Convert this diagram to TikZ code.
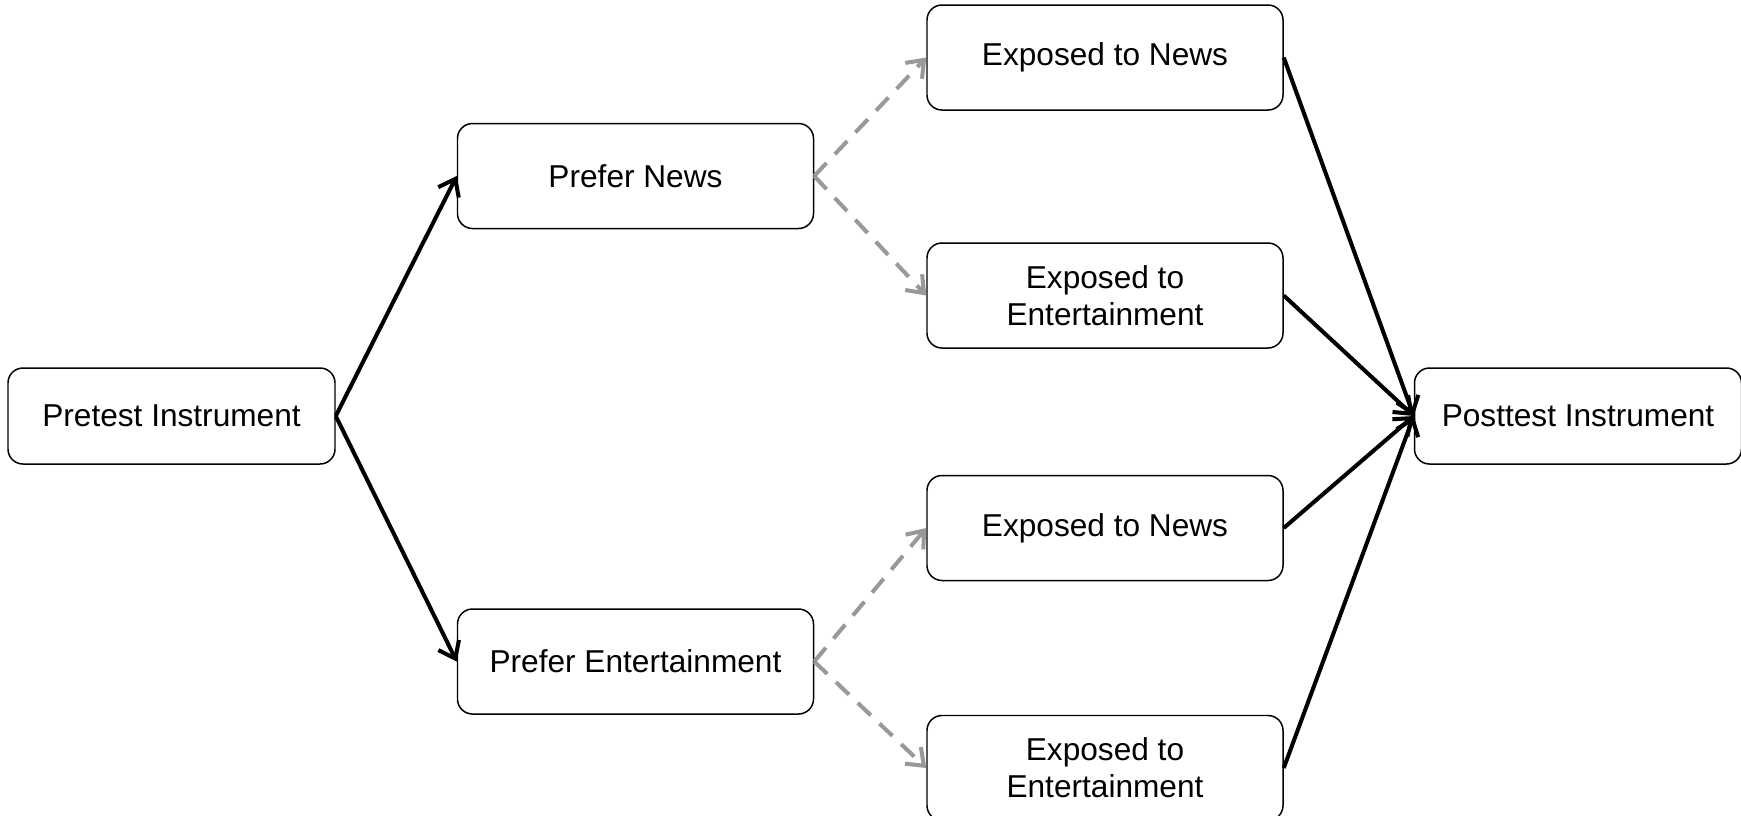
\documentclass[tikz,border=0pt]{standalone}
\usepackage{fontspec}
\setmainfont{Liberation Sans}
\usetikzlibrary{positioning,arrows.meta}

\begin{document}
\begin{tikzpicture}[
  font=\fontsize{18}{21}\selectfont,
  box/.style={draw,rounded corners=0.3cm,line width=0.85pt,minimum width=6.54cm,minimum height=1.92cm,align=center,inner sep=0pt},
  wbox/.style={box,minimum width=7.12cm,minimum height=2.1cm},
  flow/.style={line width=2.3pt,-{Straight Barb[length=0.3cm,width=0.46cm]}},
  pick/.style={flow,black!40,dash pattern=on 0.36cm off 0.24cm}
]
\useasboundingbox (-3.43,-7.98) rectangle (31.39,8.32);

\node[box](pre){Pretest Instrument};
\node[wbox, above right=2.76cm and 2.42cm of pre](pn){Prefer News};
\node[wbox, below right=2.87cm and 2.42cm of pre](pe){Prefer Entertainment};

\node[wbox, above right=0.24cm and 2.24cm of pn](en1){Exposed to News};
\node[wbox, below right=0.26cm and 2.24cm of pn](ee1){Exposed to\\Entertainment};
\node[wbox, above right=0.54cm and 2.24cm of pe](en2){Exposed to News};
\node[wbox, below right=0cm and 2.24cm of pe](ee2){Exposed to\\Entertainment};

\node[box, right=21.56cm of pre](post){Posttest Instrument};

\path (pre.east) edge[flow] (pn.west);
\path (pre.east) edge[flow] (pe.west);

\path (pn.east) edge[pick] (en1.west);
\path (pn.east) edge[pick] (ee1.west);
\path (pe.east) edge[pick] (en2.west);
\path (pe.east) edge[pick] (ee2.west);

\path (en1.east) edge[flow] (post.west);
\path (ee1.east) edge[flow] (post.west);
\path (en2.east) edge[flow] (post.west);
\path (ee2.east) edge[flow] (post.west);

\end{tikzpicture}
\end{document}
